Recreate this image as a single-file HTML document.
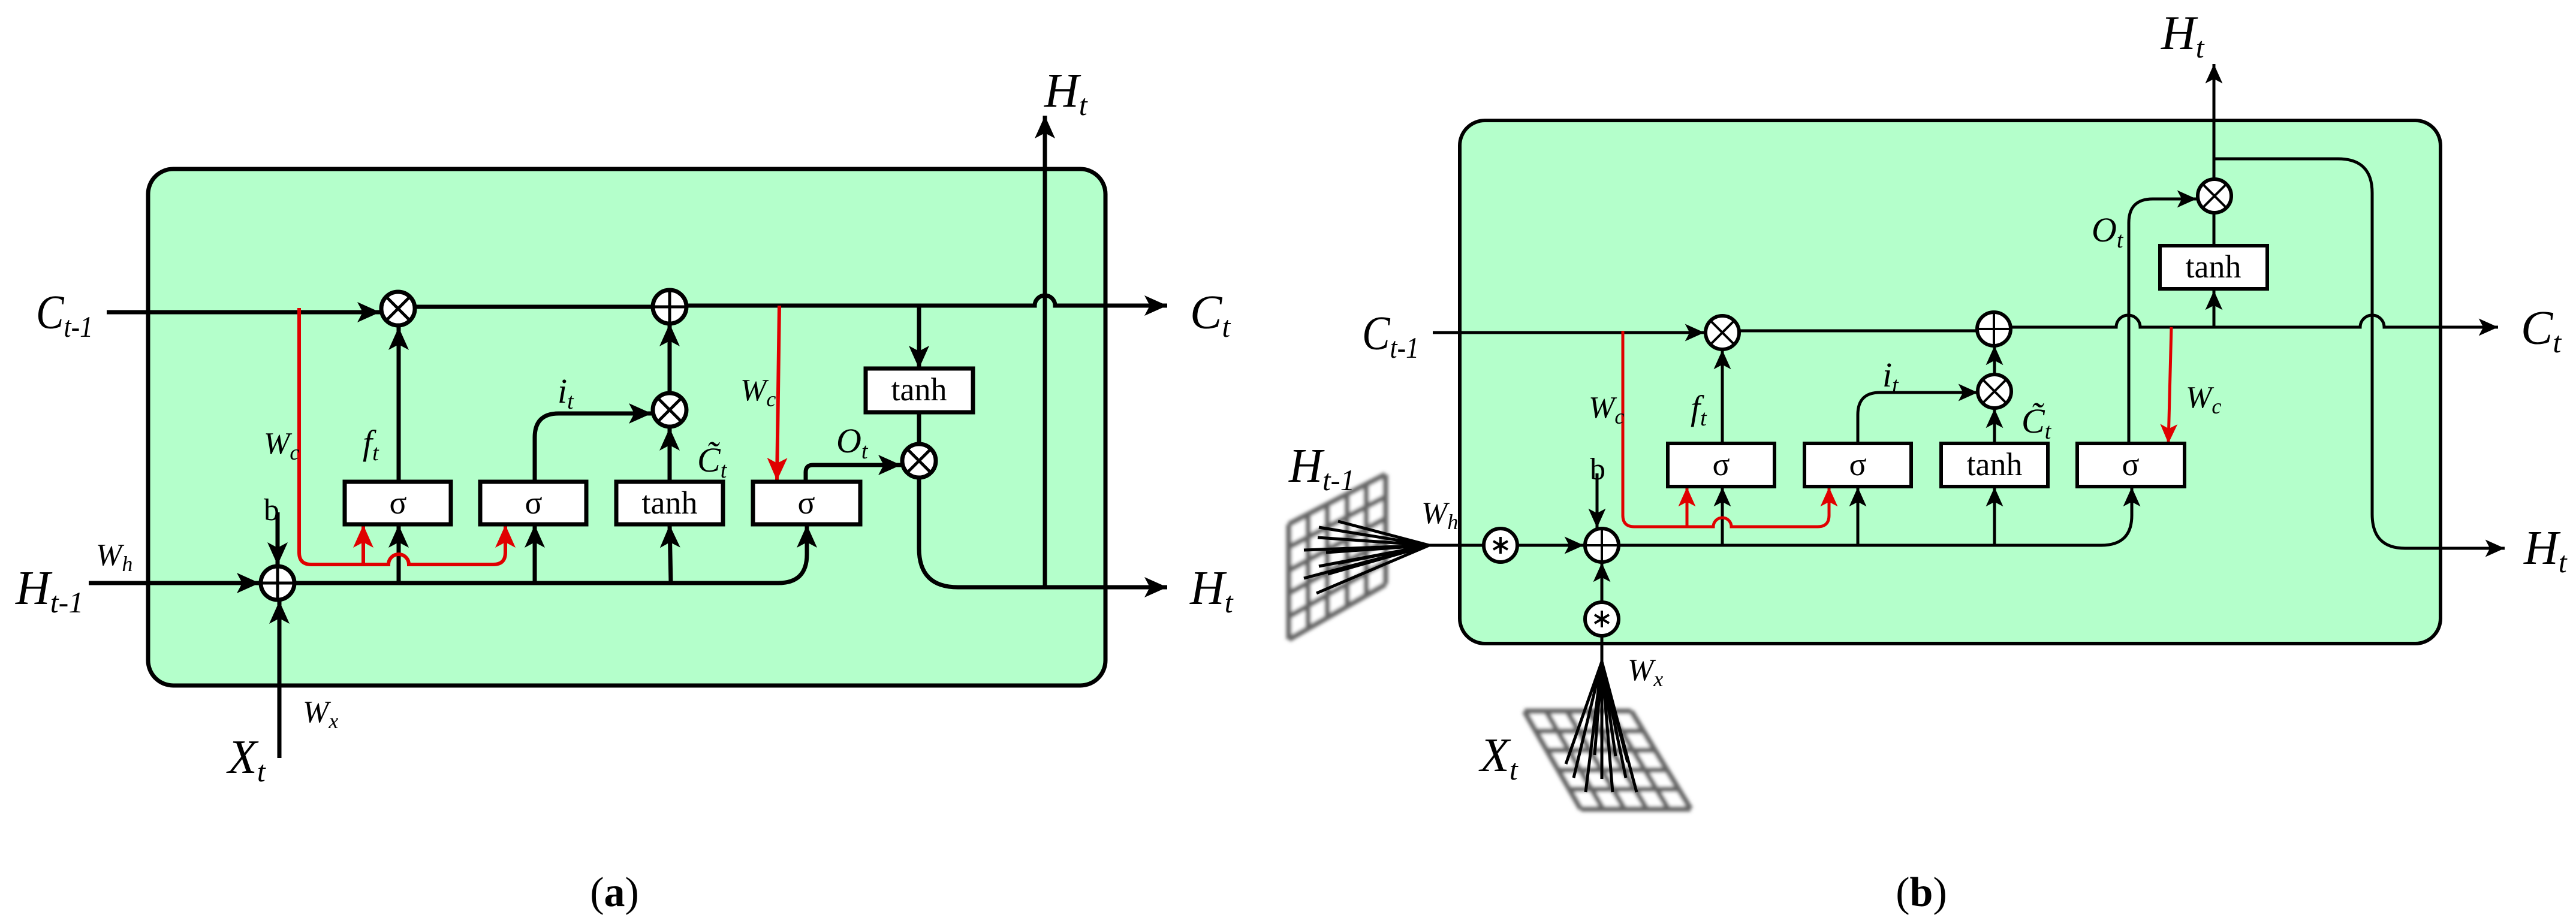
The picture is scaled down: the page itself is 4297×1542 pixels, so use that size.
<!DOCTYPE html>
<html><head><meta charset="utf-8"><style>
html,body{margin:0;padding:0;background:#fff}
svg{display:block}
svg text{font-family:"Liberation Serif","DejaVu Serif",serif;fill:#000}
.it{font-style:italic}
</style></head><body>
<svg width="4297" height="1542" viewBox="0 0 4297 1542" xmlns="http://www.w3.org/2000/svg" font-family="Liberation Serif, DejaVu Serif, serif">
<defs>
<marker id="a" markerUnits="userSpaceOnUse" markerWidth="40" markerHeight="40" viewBox="0 0 40 40" refX="38" refY="20" orient="auto"><path d="M0 3 L38 20 L0 37 L9 20 Z" fill="#000"/></marker>
<marker id="r" markerUnits="userSpaceOnUse" markerWidth="40" markerHeight="40" viewBox="0 0 40 40" refX="38" refY="20" orient="auto"><path d="M0 3 L38 20 L0 37 L9 20 Z" fill="#e00000"/></marker>
<marker id="as" markerUnits="userSpaceOnUse" markerWidth="34" markerHeight="34" viewBox="0 0 40 40" refX="38" refY="20" orient="auto"><path d="M0 3 L38 20 L0 37 L9 20 Z" fill="#000"/></marker>
<marker id="rs" markerUnits="userSpaceOnUse" markerWidth="34" markerHeight="34" viewBox="0 0 40 40" refX="38" refY="20" orient="auto"><path d="M0 3 L38 20 L0 37 L9 20 Z" fill="#e00000"/></marker>
<filter id="bl"><feGaussianBlur stdDeviation="3"/></filter>
</defs>

<!-- ============ PANEL A ============ -->
<rect x="247" y="282" width="1597" height="862" rx="42" fill="#b4ffcb" stroke="#000" stroke-width="7"/>
<g fill="none" stroke="#000" stroke-width="7">
<path d="M178 521 H634" marker-end="url(#a)"/>
<path d="M693 512 H1089"/>
<path d="M1146 510 H1726 a17 17 0 0 1 34 0 H1947" marker-end="url(#a)"/>
<path d="M665 804 V546" marker-end="url(#a)"/>
<path d="M892 804 V730 Q892 690 932 690 H1087" marker-end="url(#a)"/>
<path d="M1117 804 V714" marker-end="url(#a)"/>
<path d="M1117 656 V540" marker-end="url(#a)"/>
<path d="M1533 510 V615" marker-end="url(#a)"/>
<path d="M1533 688 V741"/>
<path d="M1344 803 V788 Q1344 776 1356 776 H1503" marker-end="url(#a)"/>
<path d="M1533 797 V915 Q1533 980 1598 980 H1947" marker-end="url(#a)"/>
<path d="M1743 980 V193" marker-end="url(#a)"/>
<path d="M148 973 H433" marker-end="url(#a)"/>
<path d="M492 973 H1298 Q1346 973 1346 925 V876" marker-end="url(#a)"/>
<path d="M665 973 V876" marker-end="url(#a)"/>
<path d="M892 973 V876" marker-end="url(#a)"/>
<path d="M1119 973 L1117 876" marker-end="url(#a)"/>
<path d="M463 855 V943" marker-end="url(#a)"/>
<path d="M466 1265 V1003" marker-end="url(#a)"/>
</g>
<g fill="none" stroke="#e00000" stroke-width="6">
<path d="M499 514 V922 Q499 942 519 942 H648 a17 17 0 0 1 34 0 H823 Q843 942 843 922 V876" marker-end="url(#r)"/>
<path d="M606 942 V876" marker-end="url(#r)"/>
<path d="M1300 510 L1296 802" marker-end="url(#r)"/>
</g>
<g stroke="#000" stroke-width="7" fill="#fff">
<rect x="575" y="804" width="177" height="71"/>
<rect x="801" y="804" width="177" height="71"/>
<rect x="1028" y="804" width="178" height="71"/>
<rect x="1256" y="804" width="179" height="71"/>
<rect x="1444" y="615" width="179" height="73"/>
<circle cx="664" cy="515" r="28"/>
<circle cx="1117" cy="512" r="28"/>
<circle cx="1117" cy="684" r="28"/>
<circle cx="1533" cy="769" r="28"/>
<circle cx="463" cy="973" r="28"/>
</g>
<g stroke="#000" stroke-width="5">
<path d="M646 497 L682 533 M682 497 L646 533"/>
<path d="M1099 666 L1135 702 M1135 666 L1099 702"/>
<path d="M1515 751 L1551 787 M1551 751 L1515 787"/>
<path d="M1117 486 V538 M1091 512 H1143"/>
<path d="M463 947 V999 M437 973 H489"/>
</g>
<g font-size="54" text-anchor="middle" font-family="Liberation Serif, serif">
<text x="664" y="857">σ</text><text x="890" y="857">σ</text>
<text x="1117" y="857">tanh</text><text x="1345" y="857">σ</text>
<text x="1533" y="668">tanh</text>
</g>
<g class="it" font-family="Liberation Serif, serif" font-style="italic">
<text x="60" y="548" font-size="80" textLength="95" lengthAdjust="spacingAndGlyphs">C<tspan font-size="50" dy="14">t-1</tspan></text>
<text x="1985" y="548" font-size="80">C<tspan font-size="50" dy="14">t</tspan></text>
<text x="1985" y="1008" font-size="80">H<tspan font-size="50" dy="14">t</tspan></text>
<text x="1742" y="178" font-size="80">H<tspan font-size="50" dy="14">t</tspan></text>
<text x="26" y="1008" font-size="80">H<tspan font-size="50" dy="14">t-1</tspan></text>
<text x="160" y="943" font-size="52">W<tspan font-size="36" dy="10">h</tspan></text>
<text x="440" y="757" font-size="52">W<tspan font-size="36" dy="10">c</tspan></text>
<text x="1235" y="668" font-size="52">W<tspan font-size="36" dy="10">c</tspan></text>
<text x="505" y="1205" font-size="52">W<tspan font-size="36" dy="10">x</tspan></text>
<text x="605" y="758" font-size="58">f<tspan font-size="38" dy="10">t</tspan></text>
<text x="930" y="672" font-size="58">i<tspan font-size="38" dy="10">t</tspan></text>
<text x="1163" y="787" font-size="58">C̃<tspan font-size="38" dy="10">t</tspan></text>
<text x="1395" y="755" font-size="58">O<tspan font-size="38" dy="10">t</tspan></text>
<text x="380" y="1290" font-size="80">X<tspan font-size="50" dy="14">t</tspan></text>
</g>
<text x="440" y="868" font-size="52">b</text>
<text x="1025" y="1512" font-size="70" text-anchor="middle">(<tspan font-weight="bold">a</tspan>)</text>

<!-- ============ PANEL B ============ -->
<rect x="2435" y="201" width="1636" height="873" rx="42" fill="#b4ffcb" stroke="#000" stroke-width="6"/>
<g filter="url(#bl)">
<path d="M2150 875 L2311 792 L2311 975 L2150 1067 Z" fill="#fff"/>
<g stroke="#666" stroke-width="9" fill="none">
<path d="M2150 875 V1067 M2182 858 V1049 M2214 842 V1030 M2247 825 V1012 M2279 809 V993 M2311 792 V975"/>
<path d="M2150 875 L2311 792 M2150 913 L2311 829 M2150 952 L2311 865 M2150 990 L2311 902 M2150 1029 L2311 938 M2150 1067 L2311 975"/>
</g>
<path d="M2543 1187 L2721 1187 L2820 1350 L2637 1350 Z" fill="#fff"/>
<g stroke="#666" stroke-width="9" fill="none">
<path d="M2543 1187 L2637 1350 M2579 1187 L2674 1350 M2614 1187 L2710 1350 M2650 1187 L2747 1350 M2685 1187 L2783 1350 M2721 1187 L2820 1350"/>
<path d="M2543 1187 H2721 M2562 1220 H2741 M2581 1252 H2761 M2599 1285 H2780 M2618 1317 H2800 M2637 1350 H2820"/>
</g>
</g>
<g stroke="#000" stroke-width="5" fill="none">
<path d="M2384 910 L2200 880 M2384 910 L2232 870 M2384 910 L2198 897 M2384 910 L2175 918 M2384 910 L2212 922 M2384 910 L2200 945 M2384 910 L2175 965 M2384 910 L2215 958 M2384 910 L2196 990 M2384 910 L2232 940"/>
<path d="M2672 1104 L2612 1275 M2672 1104 L2625 1298 M2672 1104 L2645 1322 M2672 1104 L2660 1260 M2672 1104 L2672 1300 M2672 1104 L2690 1322 M2672 1104 L2695 1262 M2672 1104 L2712 1298 M2672 1104 L2730 1322 M2672 1104 L2715 1272"/>
</g>
<g fill="none" stroke="#000" stroke-width="5">
<path d="M2390 555 H2843" marker-end="url(#as)"/>
<path d="M2901 552 H3298"/>
<path d="M3354 546 H3530 a20 20 0 0 1 40 0 H3937 a20 20 0 0 1 40 0 H4167" marker-end="url(#as)"/>
<path d="M2384 910 H2474"/>
<path d="M2532 910 H2642" marker-end="url(#as)"/>
<path d="M2700 910 H3505 Q3556 910 3556 860 V813" marker-end="url(#as)"/>
<path d="M2873 910 V813" marker-end="url(#as)"/>
<path d="M3099 910 V813" marker-end="url(#as)"/>
<path d="M3327 910 V813" marker-end="url(#as)"/>
<path d="M2873 740 V584" marker-end="url(#as)"/>
<path d="M3099 740 V692 Q3099 655 3136 655 H3299" marker-end="url(#as)"/>
<path d="M3327 740 V682" marker-end="url(#as)"/>
<path d="M3327 625 V577" marker-end="url(#as)"/>
<path d="M3551 740 V372 Q3551 332 3591 332 H3664" marker-end="url(#as)"/>
<path d="M3693 546 V485" marker-end="url(#as)"/>
<path d="M3693 410 V356"/>
<path d="M3693 298 V107" marker-end="url(#as)"/>
<path d="M3693 265 H3900 Q3957 265 3957 322 V858 Q3957 915 4012 915 H4178" marker-end="url(#as)"/>
<path d="M2664 790 V881" marker-end="url(#as)"/>
<path d="M2672 1005 V939" marker-end="url(#as)"/>
<path d="M2672 1061 V1104"/>
</g>
<g fill="none" stroke="#e00000" stroke-width="5">
<path d="M2707 552 V860 Q2707 879 2726 879 H2858 a15 15 0 0 1 30 0 H3032 Q3051 879 3051 860 V813" marker-end="url(#rs)"/>
<path d="M2814 879 V813" marker-end="url(#rs)"/>
<path d="M3622 546 L3617 740" marker-end="url(#rs)"/>
</g>
<g stroke="#000" stroke-width="6" fill="#fff">
<rect x="2782" y="740" width="178" height="72"/>
<rect x="3010" y="740" width="178" height="72"/>
<rect x="3238" y="740" width="178" height="72"/>
<rect x="3465" y="740" width="179" height="72"/>
<rect x="3603" y="410" width="179" height="72"/>
<circle cx="2873" cy="555" r="28"/>
<circle cx="3326" cy="549" r="28"/>
<circle cx="3327" cy="653" r="28"/>
<circle cx="3694" cy="327" r="28"/>
<circle cx="2672" cy="910" r="28"/>
<circle cx="2503" cy="910" r="28"/>
<circle cx="2672" cy="1033" r="28"/>
</g>
<g stroke="#000" stroke-width="4">
<path d="M2855 537 L2891 573 M2891 537 L2855 573"/>
<path d="M3309 635 L3345 671 M3345 635 L3309 671"/>
<path d="M3676 309 L3712 345 M3712 309 L3676 345"/>
<path d="M3326 523 V575 M3300 549 H3352"/>
<path d="M2672 884 V936 M2646 910 H2698"/>
<path d="M2503 896 V924 M2491 903 L2515 917 M2515 903 L2491 917"/>
<path d="M2672 1019 V1047 M2660 1026 L2684 1040 M2684 1026 L2660 1040"/>
</g>
<g font-size="54" text-anchor="middle" font-family="Liberation Serif, serif">
<text x="2871" y="793">σ</text><text x="3099" y="793">σ</text>
<text x="3327" y="793">tanh</text><text x="3554" y="793">σ</text>
<text x="3692" y="463">tanh</text>
</g>
<g class="it" font-family="Liberation Serif, serif" font-style="italic">
<text x="2272" y="583" font-size="80" textLength="95" lengthAdjust="spacingAndGlyphs">C<tspan font-size="50" dy="14">t-1</tspan></text>
<text x="4205" y="574" font-size="80">C<tspan font-size="50" dy="14">t</tspan></text>
<text x="4210" y="941" font-size="80">H<tspan font-size="50" dy="14">t</tspan></text>
<text x="3605" y="82" font-size="80">H<tspan font-size="50" dy="14">t</tspan></text>
<text x="2150" y="804" font-size="80" textLength="110" lengthAdjust="spacingAndGlyphs">H<tspan font-size="50" dy="14">t-1</tspan></text>
<text x="2371" y="873" font-size="52">W<tspan font-size="36" dy="10">h</tspan></text>
<text x="2650" y="697" font-size="52">W<tspan font-size="36" dy="10">c</tspan></text>
<text x="3646" y="680" font-size="52">W<tspan font-size="36" dy="10">c</tspan></text>
<text x="2715" y="1135" font-size="52">W<tspan font-size="36" dy="10">x</tspan></text>
<text x="2820" y="700" font-size="58">f<tspan font-size="38" dy="10">t</tspan></text>
<text x="3140" y="645" font-size="58">i<tspan font-size="38" dy="10">t</tspan></text>
<text x="3372" y="722" font-size="58">C̃<tspan font-size="38" dy="10">t</tspan></text>
<text x="3489" y="403" font-size="58">O<tspan font-size="38" dy="10">t</tspan></text>
<text x="2469" y="1287" font-size="80">X<tspan font-size="50" dy="14">t</tspan></text>
</g>
<text x="2652" y="800" font-size="52">b</text>
<text x="3205" y="1512" font-size="70" text-anchor="middle">(<tspan font-weight="bold">b</tspan>)</text>
</svg>
</body></html>
